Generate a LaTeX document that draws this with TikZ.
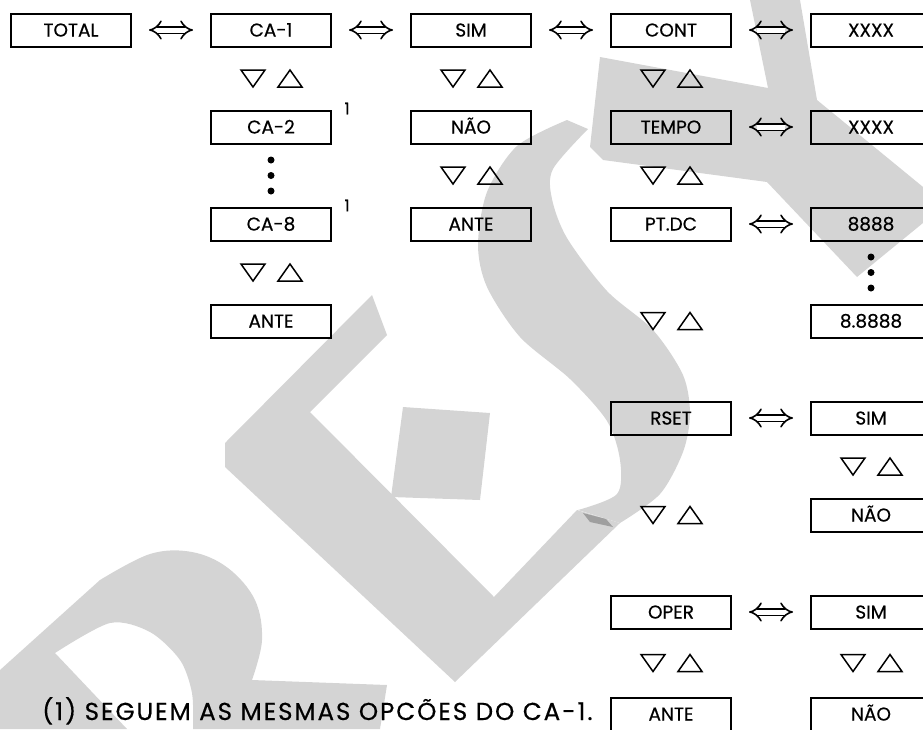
\documentclass[tikz,border=0pt]{standalone}
\usepackage{fontspec}
\setmainfont{Poppins}[FakeBold=0.5]
\newfontfamily\notefont{Poppins}[FakeBold=0.5,LetterSpace=8]
\usetikzlibrary{arrows.meta,calc}
\definecolor{wmark}{RGB}{212,212,212}

% pair of navigation keys (down / up) centred on a coordinate
\newcommand{\keypair}[1]{%
	\draw[keystroke] ($(#1)+(-30pt,8.5pt)$) -- ++(24pt,0) -- ++(-12pt,-17pt) -- cycle;
	\draw[keystroke] ($(#1)+(7pt,-8.5pt)$) -- ++(24pt,0) -- ++(-12pt,17pt) -- cycle;}

\begin{document}
\begin{tikzpicture}

		\tikzstyle{menu}=[rectangle,
			draw=black,line width=2pt,
			minimum height=33pt,minimum width=120pt,
			node distance=200pt,
			font=\fontsize{18.5}{18.5}\selectfont,
			text height=13pt,text depth=0pt,
			inner sep=0mm]
		\tikzstyle{stepdown}=[node distance=97pt]
		\tikzstyle{dbl}=[{Implies}-{Implies},
			double,double distance=5pt,line width=1.6pt,
			shorten <=17pt,shorten >=17pt]
		\tikzstyle{keystroke}=[line width=1.5pt,line join=miter]
		\tikzstyle{ref}=[font=\fontsize{16}{16}\selectfont,inner sep=0pt]

		\useasboundingbox (0,0) rectangle (923pt,-729pt);

		% watermark
		\begin{scope}[x=1pt,y=-1pt]
			\fill[wmark] (0,729) -- (0,670) -- plot[smooth,tension=0.6] coordinates {(100,580) (150,554) (192,552) (228,568) (255,600) (262,640) (252,680)}
				-- (387,685) -- (380,729) -- plot[smooth] coordinates {(193,729) (192,693) (180,660) (150,632) (110,623) (55,653)} -- (127,729) -- cycle;
			\fill[wmark] (372,295) -- (387,335) -- (310,412) -- (494,597) -- (577,510) -- (620,523) -- (455,682) -- (225,467) -- (225,443) -- cycle;
			\fill[wmark] (403,407) -- (490,413) -- (480,500) -- (391,497) -- cycle;
			\fill[wmark] plot[smooth] coordinates {(567,120) (517,146) (487,192) (478,245) (487,287) (520,337) (570,379) (607,421) (620,460) (617,494) (578,510)}
				-- plot[smooth] coordinates {(620,523) (660,494) (683,452) (690,414) (683,375) (653,330) (607,291) (567,238) (552,199) (553,169) (588,129)} -- cycle;
			\fill[wmark] (750,0) -- (800,0) -- (817,100) -- (945,205) -- (857,277) -- (767,182) -- (603,160) -- (590,147) -- (600,57) -- (768,88) -- cycle;
			\fill[wmark!75!black] (583,513) -- (606,519) -- (613,527) -- (590,522) -- cycle;
		\end{scope}

		% first row
		\node[menu] at (71pt,-30pt)	(total)	{TOTAL};
		\node[menu,right of=total]	(ca1)	{CA-1};
		\node[menu,right of=ca1]	(sim1)	{SIM};
		\node[menu,right of=sim1]	(cont)	{CONT};
		\node[menu,right of=cont]	(cont-v)	{XXXX};

		% CA column
		\node[menu,stepdown,below of=ca1]	(ca2)	{CA-2};
		\node[menu,stepdown,below of=ca2]	(ca8)	{CA-8};
		\node[menu,stepdown,below of=ca8]	(ante1)	{ANTE};

		% SIM column
		\node[menu,stepdown,below of=sim1]	(nao1)	{NÃO};
		\node[menu,stepdown,below of=nao1]	(ante2)	{ANTE};

		% CONT column
		\node[menu,stepdown,below of=cont]	(tempo)	{TEMPO};
		\node[menu,stepdown,below of=tempo]	(ptdc)	{PT.DC};
		\node[menu,below of=ptdc,node distance=194pt]	(rset)	{RSET};
		\node[menu,below of=rset,node distance=194pt]	(oper)	{OPER};
		\node[menu,below of=oper,node distance=102pt]	(ante3)	{ANTE};

		% values
		\node[menu,right of=tempo]	(tempo-v)	{XXXX};
		\node[menu,right of=ptdc]	(ptdc-hi)	{8888};
		\node[menu,stepdown,below of=ptdc-hi]	(ptdc-lo)	{8.8888};
		\node[menu,right of=rset]	(rset-y)	{SIM};
		\node[menu,stepdown,below of=rset-y]	(rset-n)	{NÃO};
		\node[menu,right of=oper]	(oper-y)	{SIM};
		\node[menu,right of=ante3]	(oper-n)	{NÃO};

		\node[ref] at ($(ca2.north east)+(15pt,1pt)$)	(ref2)	{1};
		\node[ref] at ($(ca8.north east)+(15pt,1pt)$)	(ref8)	{1};

		\draw[dbl]	(total)	--	(ca1);
		\draw[dbl]	(ca1)	--	(sim1);
		\draw[dbl]	(sim1)	--	(cont);
		\draw[dbl]	(cont)	--	(cont-v);
		\draw[dbl]	(tempo)	--	(tempo-v);
		\draw[dbl]	(ptdc)	--	(ptdc-hi);
		\draw[dbl]	(rset)	--	(rset-y);
		\draw[dbl]	(oper)	--	(oper-y);

		\foreach \a/\b [count=\i] in {ca1/ca2,ca8/ante1,sim1/nao1,nao1/ante2,cont/tempo,tempo/ptdc,ptdc/rset,rset/oper,oper/ante3,rset-y/rset-n,oper-y/oper-n}{
			\coordinate (keys\i) at ($(\a)!0.5!(\b)$);
			\keypair{keys\i}
		}

		\foreach \f in {0.25,0.5,0.75}{
			\fill ($(ca2.south)!\f!(ca8.north)$) circle (3.5pt);
			\fill ($(ptdc-hi.south)!\f!(ptdc-lo.north)$) circle (3.5pt);
		}

		\node[anchor=base west,inner sep=0pt,font=\notefont\fontsize{24.5}{24.5}\selectfont] at (42pt,-720pt)	(note)	{(1) SEGUEM AS MESMAS OPCÕES DO CA-1.};

	\end{tikzpicture}
\end{document}
